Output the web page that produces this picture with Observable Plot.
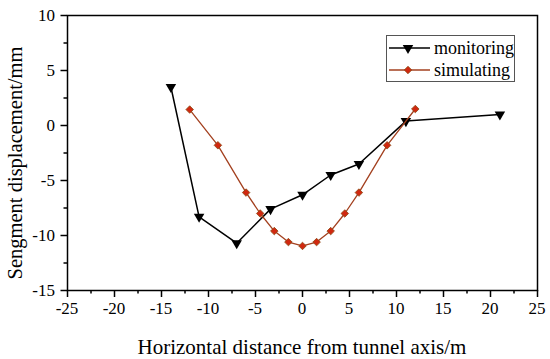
<!DOCTYPE html>
<html>
<head>
<meta charset="utf-8">
<script src="https://cdn.jsdelivr.net/npm/d3@7"></script>
<script src="https://cdn.jsdelivr.net/npm/@observablehq/plot@0.6"></script>
<style>
  html, body { margin: 0; padding: 0; background: #fff; }
  #wrap { position: relative; width: 550px; height: 359px; }
  #legend { position: absolute; left: 386px; top: 35px; }
  svg text { font-family: 'Liberation Serif', 'Times New Roman', serif !important; }
</style>
</head>
<body>
<div id="wrap"></div>
<script>
// Data
const monitoringX = [-14, -11, -7, -3.4, 0, 3, 6, 11, 21];
const monitoringY = [3.5, -8.3, -10.7, -7.6, -6.3, -4.5, -3.5, 0.4, 1.0];
const simulatingX = [-12, -9, -6, -4.5, -3, -1.5, 0, 1.5, 3, 4.5, 6, 9, 12];
const simulatingY = [1.45, -1.8, -6.1, -8.0, -9.6, -10.6, -10.95, -10.6, -9.6, -8.0, -6.1, -1.8, 1.5];
const xTicks = [-25, -20, -15, -10, -5, 0, 5, 10, 15, 20, 25];
const yTicks = [-15, -10, -5, 0, 5, 10];
const seriesNames = ["monitoring", "simulating"];
const xTitle = "Horizontal distance from tunnel axis/m";
const yTitle = "Sengment displacement/mm";

const monitoring = monitoringX.map((x, i) => ({x, y: monitoringY[i]}));
const simulating = simulatingX.map((x, i) => ({x, y: simulatingY[i]}));

const font = "'Liberation Serif', 'Times New Roman', serif";
const lineCol = "#a3401f";
const dotFill = "#d02810";
const dotStroke = "#8a4a14";

const xMinor = xTicks.slice(0, -1).map(v => v + 2.5);
const yMinor = yTicks.slice(0, -1).map(v => v + 2.5);
const fmt = d => d < 0 ? "-" + Math.abs(d) : String(d);
const none = () => "";

const chart = Plot.plot({
  width: 550,
  height: 359,
  marginLeft: 67,
  marginRight: 13,
  marginTop: 15,
  marginBottom: 69,
  style: {fontFamily: font, fontSize: "17px", color: "#000", background: "#fff"},
  x: {domain: [-25, 25]},
  y: {domain: [-15, 10]},
  marks: [
    Plot.axisX({ticks: xTicks, tickSize: 7, tickFormat: none, label: null, strokeWidth: 1.5}),
    Plot.axisX({ticks: xMinor, tickSize: 3.5, tickFormat: none, label: null, strokeWidth: 1.5}),
    Plot.axisY({ticks: yTicks, tickSize: 6.5, tickFormat: none, label: null, strokeWidth: 1.5}),
    Plot.axisY({ticks: yMinor, tickSize: 3.5, tickFormat: none, label: null, strokeWidth: 1.5}),
    Plot.frame({stroke: "#000", strokeWidth: 1.5}),
    Plot.line(monitoring, {x: "x", y: "y", stroke: "#000", strokeWidth: 1.5}),
    Plot.dot(monitoring, {x: "x", y: "y", symbol: "triangle", rotate: 180, r: 3.9, fill: "#000", stroke: "none"}),
    Plot.line(simulating, {x: "x", y: "y", stroke: lineCol, strokeWidth: 1.3}),
    Plot.dot(simulating, {x: "x", y: "y", symbol: "diamond2", r: 3.4, fill: dotFill, stroke: dotStroke, strokeWidth: 0.8})
  ]
});

const svg = d3.select(chart);
const sx = chart.scale("x"), sy = chart.scale("y");
const yBottom = sy.apply(-15), xLeft = sx.apply(-25);
const gl = svg.append("g").attr("fill", "#000");
xTicks.forEach(t => gl.append("text")
  .attr("x", sx.apply(t)).attr("y", yBottom + 23.5)
  .attr("text-anchor", "middle")
  .style("font-size", "17px").style("font-family", font)
  .text(fmt(t)));
yTicks.forEach(t => gl.append("text")
  .attr("x", xLeft - 12).attr("y", sy.apply(t) + 6)
  .attr("text-anchor", "end")
  .style("font-size", "17px").style("font-family", font)
  .text(fmt(t)));

svg.append("text")
  .attr("x", 302).attr("y", 354)
  .attr("text-anchor", "middle")
  .style("font-size", "21px").attr("fill", "#000")
  .text(xTitle);
svg.append("text")
  .attr("transform", "translate(22,163) rotate(-90)")
  .attr("text-anchor", "middle")
  .style("font-size", "20.5px").attr("fill", "#000")
  .text(yTitle);

document.getElementById("wrap").appendChild(chart);

// Legend
const leg = document.createElement("div");
leg.id = "legend";
leg.innerHTML = `
<svg width="130" height="48">
  <rect x="0.5" y="0.5" width="128" height="46" fill="#fff" stroke="#555" stroke-width="1"/>
  <line x1="3" x2="44" y1="13" y2="13" stroke="#000" stroke-width="1.5"/>
  <path transform="translate(22,13) rotate(180)" d="${d3.symbol(d3.symbolTriangle, 48)()}" fill="#000"/>
  <text x="48" y="19" font-size="18" fill="#000">${seriesNames[0]}</text>
  <line x1="3" x2="44" y1="35" y2="35" stroke="${lineCol}" stroke-width="1.5"/>
  <path transform="translate(22,35)" d="${d3.symbol(d3.symbolDiamond2, 36)()}" fill="${dotFill}" stroke="${dotStroke}" stroke-width="0.8"/>
  <text x="48" y="41" font-size="18" fill="#000">${seriesNames[1]}</text>
</svg>`;
document.getElementById("wrap").appendChild(leg);
</script>
</body>
</html>
